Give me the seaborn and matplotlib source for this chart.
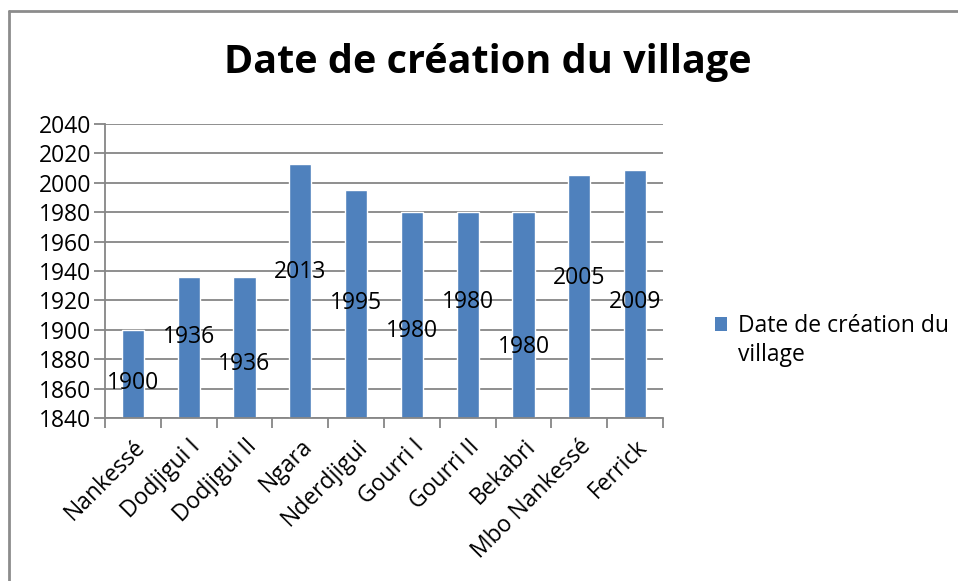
import matplotlib
matplotlib.use("Agg")
import matplotlib.pyplot as plt
from matplotlib.lines import Line2D
from matplotlib.patches import Patch
import numpy as np
import pandas as pd
import seaborn as sns

# data
villages = ["Nankessé", "Dodjigui I", "Dodjigui II", "Ngara", "Nderdjigui",
            "Gourri I", "Gourri II", "Bekabri", "Mbo Nankessé", "Ferrick"]
annees = [1900, 1936, 1936, 2013, 1995, 1980, 1980, 1980, 2005, 2009]
y_ticks = list(range(1840, 2041, 20))

# where Excel dropped the value labels (y in data units)
label_y = [1864, 1895, 1877, 1939, 1918, 1899, 1919, 1888, 1935, 1919]

BLUE = "#4F81BD"
GRID = "#868686"
FS = 16.5

sns.set_theme(style="white")
plt.rcParams["font.family"] = ["Open Sans", "DejaVu Sans"]
plt.rcParams["text.color"] = "black"
plt.rcParams["xtick.color"] = "black"
plt.rcParams["ytick.color"] = "black"

df = pd.DataFrame({"village": villages, "annee": annees})

fig = plt.figure(figsize=(9.58, 5.81), dpi=100)
ax = fig.add_axes([105 / 958, 1 - 418 / 581, 558 / 958, 294 / 581])

base = y_ticks[0]
sns.barplot(data=df, x="village", y="annee", color=BLUE, saturation=1,
            width=0.4, ax=ax)
# bars start at the axis minimum, like Excel
for bar, val in zip(ax.patches, annees):
    bar.set_y(base)
    bar.set_height(val - base)

ax.set_ylim(y_ticks[0], y_ticks[-1])
ax.set_xlim(-0.5, len(villages) - 0.5)
ax.set_yticks(y_ticks)
ax.set_yticklabels([str(t) for t in y_ticks], fontsize=FS)
ax.yaxis.grid(True, color=GRID, linewidth=1.3)
ax.set_axisbelow(True)
ax.tick_params(axis="y", which="major", left=True, length=8, width=1.3,
               color=GRID, labelcolor="black", pad=2)

ax.set_xticks(range(len(villages)))
ax.set_xticklabels(villages, rotation=45, ha="right", rotation_mode="anchor",
                   fontsize=FS)
ax.set_xticks(np.arange(-0.5, len(villages), 1.0), minor=True)
ax.tick_params(axis="x", which="major", length=0, pad=12,
               labelcolor="black")
ax.tick_params(axis="x", which="minor", bottom=True, length=7, width=1.3,
               color=GRID)

ax.set_xlabel("")
ax.set_ylabel("")
for s in ["top", "right"]:
    ax.spines[s].set_visible(False)
for s in ["left", "bottom"]:
    ax.spines[s].set_color(GRID)
    ax.spines[s].set_linewidth(1.3)

for i, (val, ly) in enumerate(zip(annees, label_y)):
    ax.text(i, ly, str(val), ha="center", va="center", fontsize=FS,
            color="black")

fig.text(488 / 958, 1 - 62 / 581, "Date de création du village",
         ha="center", va="center", fontsize=28.5, fontweight="bold",
         color="black")

# legend: Excel wraps the label, the square stays on the first line
handle = Patch(facecolor=BLUE, edgecolor="none")
leg = fig.legend([handle], ["Date de création du"], loc="center left",
                 bbox_to_anchor=(694 / 958, 1 - 326 / 581), frameon=False,
                 fontsize=FS, handlelength=0.55, handleheight=0.55,
                 handletextpad=0.45, labelcolor="black")
fig.canvas.draw()
bb = leg.get_texts()[0].get_window_extent()
fig.text(bb.x0 / fig.bbox.width, (bb.y0 - 29) / fig.bbox.height, "village",
         ha="left", va="bottom", fontsize=FS, color="black")

# outer chart border (only left and top visible in the crop)
fig.add_artist(Line2D([9 / 958, 9 / 958], [0, 1 - 11 / 581],
                      transform=fig.transFigure, color="#8C8C8C", lw=2))
fig.add_artist(Line2D([9 / 958, 1], [1 - 11 / 581, 1 - 11 / 581],
                      transform=fig.transFigure, color="#8C8C8C", lw=2))

fig.savefig("out.png", dpi=100)
